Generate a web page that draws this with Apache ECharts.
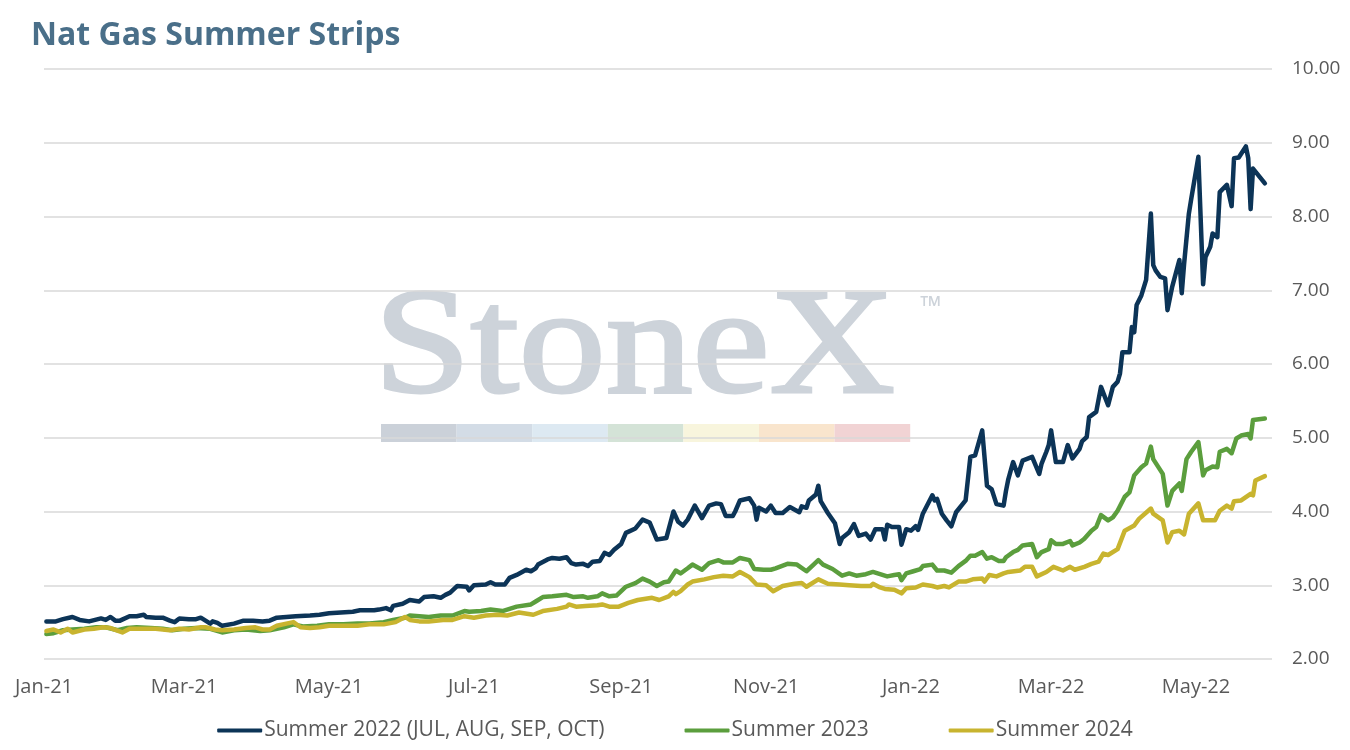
<!DOCTYPE html>
<html>
<head>
<meta charset="utf-8">
<title>Nat Gas Summer Strips</title>
<script src="https://cdn.jsdelivr.net/npm/echarts@6.0.0/dist/echarts.min.js"></script>
<style>
  html, body { margin: 0; padding: 0; background: #fff; }
  #chart { width: 1350px; height: 750px; }
</style>
</head>
<body>
<div id="chart"></div>
<script>
// legend names
var seriesNames = ['Summer 2022 (JUL, AUG, SEP, OCT)', 'Summer 2023', 'Summer 2024'];
var seriesColors = ['#0c3457', '#5b9e3d', '#c8b42f'];

// y ticks and x label months
var yMin = 2, yMax = 10, yStep = 1;
var xStart = '2021-01-01', xEnd = '2022-06-02';
var xLabelMonths = ['2021-01-01', '2021-03-01', '2021-05-01', '2021-07-01', '2021-09-01', '2021-11-01', '2022-01-01', '2022-03-01', '2022-05-01'];
var monthNames = ['Jan', 'Feb', 'Mar', 'Apr', 'May', 'Jun', 'Jul', 'Aug', 'Sep', 'Oct', 'Nov', 'Dec'];

// Summer 2022 strip
var s2022 = [
  ['2021-01-02',2.51],['2021-01-06',2.51],['2021-01-09',2.54],['2021-01-13',2.57],['2021-01-16',2.53],['2021-01-20',2.51],
  ['2021-01-25',2.55],['2021-01-27',2.53],['2021-01-29',2.57],['2021-01-31',2.52],['2021-02-02',2.52],['2021-02-06',2.58],
  ['2021-02-09',2.58],['2021-02-12',2.60],['2021-02-13',2.57],['2021-02-17',2.56],['2021-02-20',2.56],['2021-02-23',2.52],
  ['2021-02-25',2.50],['2021-02-27',2.55],['2021-03-03',2.54],['2021-03-06',2.54],['2021-03-08',2.56],['2021-03-10',2.52],
  ['2021-03-12',2.48],['2021-03-13',2.51],['2021-03-15',2.49],['2021-03-17',2.45],['2021-03-22',2.48],['2021-03-26',2.52],
  ['2021-03-30',2.52],['2021-04-03',2.51],['2021-04-06',2.52],['2021-04-09',2.56],['2021-04-13',2.57],['2021-04-17',2.58],
  ['2021-04-23',2.59],['2021-04-27',2.60],['2021-05-01',2.62],['2021-05-06',2.63],['2021-05-11',2.64],['2021-05-14',2.66],
  ['2021-05-20',2.66],['2021-05-22',2.67],['2021-05-25',2.69],['2021-05-27',2.66],['2021-05-28',2.72],['2021-06-01',2.75],
  ['2021-06-04',2.80],['2021-06-08',2.78],['2021-06-10',2.84],['2021-06-14',2.85],['2021-06-17',2.83],['2021-06-19',2.87],
  ['2021-06-21',2.90],['2021-06-23',2.96],['2021-06-24',2.99],['2021-06-28',2.98],['2021-06-29',2.93],['2021-07-01',3.00],
  ['2021-07-06',3.01],['2021-07-08',3.04],['2021-07-10',3.01],['2021-07-14',3.01],['2021-07-16',3.10],['2021-07-19',3.14],
  ['2021-07-23',3.21],['2021-07-25',3.19],['2021-07-27',3.23],['2021-07-28',3.28],['2021-08-01',3.35],['2021-08-03',3.37],
  ['2021-08-06',3.36],['2021-08-09',3.38],['2021-08-11',3.30],['2021-08-13',3.28],['2021-08-16',3.29],['2021-08-18',3.26],
  ['2021-08-20',3.32],['2021-08-23',3.33],['2021-08-25',3.44],['2021-08-27',3.41],['2021-08-29',3.48],['2021-09-01',3.56],
  ['2021-09-03',3.71],['2021-09-07',3.77],['2021-09-10',3.89],['2021-09-13',3.85],['2021-09-16',3.62],['2021-09-20',3.64],
  ['2021-09-23',4.00],['2021-09-25',3.86],['2021-09-27',3.81],['2021-09-29',3.89],['2021-10-02',4.08],['2021-10-05',3.91],
  ['2021-10-08',4.08],['2021-10-11',4.11],['2021-10-13',4.10],['2021-10-15',3.94],['2021-10-18',3.94],['2021-10-19',4.00],
  ['2021-10-21',4.15],['2021-10-25',4.18],['2021-10-27',4.08],['2021-10-28',3.89],['2021-10-29',4.05],['2021-11-01',4.00],
  ['2021-11-03',4.08],['2021-11-05',3.98],['2021-11-08',3.98],['2021-11-11',4.06],['2021-11-15',3.99],['2021-11-16',4.07],
  ['2021-11-18',4.05],['2021-11-19',4.15],['2021-11-22',4.23],['2021-11-23',4.35],['2021-11-24',4.14],['2021-11-27',3.98],
  ['2021-11-30',3.84],['2021-12-02',3.56],['2021-12-03',3.64],['2021-12-06',3.72],['2021-12-08',3.83],['2021-12-10',3.67],
  ['2021-12-13',3.70],['2021-12-15',3.62],['2021-12-17',3.76],['2021-12-20',3.76],['2021-12-21',3.62],['2021-12-22',3.82],
  ['2021-12-24',3.79],['2021-12-27',3.79],['2021-12-28',3.55],['2021-12-30',3.76],['2022-01-01',3.74],['2022-01-03',3.80],
  ['2022-01-04',3.75],['2022-01-06',3.97],['2022-01-10',4.22],['2022-01-11',4.15],['2022-01-12',4.17],['2022-01-14',3.97],
  ['2022-01-16',3.88],['2022-01-18',3.80],['2022-01-20',3.99],['2022-01-24',4.15],['2022-01-26',4.74],['2022-01-28',4.76],
  ['2022-01-31',5.10],['2022-02-02',4.35],['2022-02-04',4.30],['2022-02-06',4.10],['2022-02-09',4.08],['2022-02-10',4.28],
  ['2022-02-11',4.44],['2022-02-13',4.67],['2022-02-15',4.49],['2022-02-17',4.69],['2022-02-21',4.74],['2022-02-24',4.51],
  ['2022-02-25',4.65],['2022-02-27',4.81],['2022-02-28',4.90],['2022-03-01',5.10],['2022-03-03',4.67],['2022-03-06',4.67],
  ['2022-03-08',4.90],['2022-03-10',4.72],['2022-03-13',4.85],['2022-03-14',4.95],['2022-03-16',5.01],['2022-03-17',5.28],
  ['2022-03-20',5.35],['2022-03-22',5.69],['2022-03-25',5.44],['2022-03-27',5.69],['2022-03-29',5.76],['2022-03-30',5.87],
  ['2022-03-31',6.16],['2022-04-03',6.16],['2022-04-04',6.50],['2022-04-05',6.43],['2022-04-06',6.80],['2022-04-08',6.93],
  ['2022-04-10',7.14],['2022-04-12',8.04],['2022-04-13',7.34],['2022-04-14',7.27],['2022-04-16',7.18],['2022-04-18',7.16],
  ['2022-04-19',6.73],['2022-04-21',7.05],['2022-04-24',7.41],['2022-04-25',6.96],['2022-04-26',7.36],['2022-04-28',8.04],
  ['2022-04-29',8.24],['2022-05-02',8.81],['2022-05-04',7.08],['2022-05-05',7.45],['2022-05-07',7.59],['2022-05-08',7.77],
  ['2022-05-10',7.72],['2022-05-11',8.33],['2022-05-14',8.43],['2022-05-16',8.14],['2022-05-17',8.79],['2022-05-19',8.80],
  ['2022-05-22',8.95],['2022-05-23',8.79],['2022-05-24',8.10],['2022-05-25',8.65],['2022-05-30',8.45]
];

// Summer 2023 strip
var s2023 = [
  ['2021-01-02',2.34],['2021-01-05',2.35],['2021-01-09',2.39],['2021-01-13',2.40],['2021-01-18',2.41],['2021-01-23',2.43],
  ['2021-01-27',2.43],['2021-02-01',2.39],['2021-02-05',2.42],['2021-02-09',2.43],['2021-02-15',2.42],['2021-02-20',2.41],
  ['2021-02-24',2.39],['2021-03-01',2.41],['2021-03-06',2.42],['2021-03-12',2.41],['2021-03-17',2.36],['2021-03-22',2.39],
  ['2021-03-27',2.40],['2021-04-02',2.38],['2021-04-06',2.39],['2021-04-12',2.43],['2021-04-16',2.47],['2021-04-20',2.44],
  ['2021-04-26',2.45],['2021-05-01',2.47],['2021-05-07',2.47],['2021-05-13',2.48],['2021-05-18',2.48],['2021-05-24',2.50],
  ['2021-05-28',2.53],['2021-06-02',2.56],['2021-06-04',2.59],['2021-06-08',2.58],['2021-06-12',2.57],['2021-06-17',2.59],
  ['2021-06-22',2.59],['2021-06-27',2.65],['2021-06-29',2.64],['2021-07-04',2.65],['2021-07-08',2.67],['2021-07-13',2.65],
  ['2021-07-19',2.71],['2021-07-25',2.74],['2021-07-27',2.78],['2021-07-30',2.84],['2021-08-03',2.85],['2021-08-09',2.87],
  ['2021-08-12',2.84],['2021-08-16',2.85],['2021-08-18',2.83],['2021-08-22',2.85],['2021-08-24',2.89],['2021-08-27',2.85],
  ['2021-08-30',2.86],['2021-09-03',2.98],['2021-09-07',3.03],['2021-09-10',3.09],['2021-09-13',3.05],['2021-09-16',2.99],
  ['2021-09-19',3.04],['2021-09-21',3.05],['2021-09-24',3.20],['2021-09-26',3.16],['2021-09-29',3.23],['2021-10-01',3.28],
  ['2021-10-05',3.21],['2021-10-08',3.30],['2021-10-12',3.34],['2021-10-14',3.31],['2021-10-18',3.31],['2021-10-21',3.37],
  ['2021-10-25',3.34],['2021-10-27',3.22],['2021-10-31',3.21],['2021-11-03',3.21],['2021-11-05',3.23],['2021-11-10',3.29],
  ['2021-11-14',3.28],['2021-11-18',3.19],['2021-11-21',3.28],['2021-11-23',3.34],['2021-11-25',3.28],['2021-11-29',3.22],
  ['2021-12-03',3.13],['2021-12-06',3.16],['2021-12-09',3.13],['2021-12-13',3.15],['2021-12-16',3.18],['2021-12-19',3.15],
  ['2021-12-22',3.12],['2021-12-25',3.14],['2021-12-27',3.15],['2021-12-28',3.07],['2021-12-30',3.16],['2022-01-02',3.19],
  ['2022-01-05',3.22],['2022-01-06',3.26],['2022-01-10',3.28],['2022-01-12',3.20],['2022-01-15',3.20],['2022-01-18',3.17],
  ['2022-01-21',3.26],['2022-01-24',3.33],['2022-01-26',3.40],['2022-01-28',3.40],['2022-01-31',3.45],['2022-02-02',3.36],
  ['2022-02-04',3.38],['2022-02-07',3.33],['2022-02-09',3.33],['2022-02-10',3.38],['2022-02-13',3.45],['2022-02-15',3.48],
  ['2022-02-17',3.54],['2022-02-21',3.56],['2022-02-23',3.38],['2022-02-25',3.45],['2022-02-28',3.49],['2022-03-01',3.61],
  ['2022-03-03',3.56],['2022-03-06',3.56],['2022-03-09',3.60],['2022-03-10',3.54],['2022-03-13',3.58],['2022-03-15',3.63],
  ['2022-03-18',3.74],['2022-03-20',3.79],['2022-03-22',3.95],['2022-03-25',3.88],['2022-03-27',3.92],['2022-03-29',4.01],
  ['2022-04-01',4.20],['2022-04-03',4.26],['2022-04-05',4.49],['2022-04-08',4.60],['2022-04-10',4.65],['2022-04-12',4.88],
  ['2022-04-13',4.71],['2022-04-17',4.51],['2022-04-19',4.08],['2022-04-21',4.28],['2022-04-24',4.38],['2022-04-25',4.28],
  ['2022-04-27',4.71],['2022-04-29',4.81],['2022-05-02',4.94],['2022-05-04',4.49],['2022-05-05',4.56],['2022-05-08',4.61],
  ['2022-05-10',4.60],['2022-05-11',4.81],['2022-05-14',4.85],['2022-05-16',4.79],['2022-05-18',4.99],['2022-05-20',5.03],
  ['2022-05-23',5.05],['2022-05-24',4.99],['2022-05-25',5.24],['2022-05-30',5.26]
];

// Summer 2024 strip
var s2024 = [
  ['2021-01-02',2.38],['2021-01-05',2.40],['2021-01-08',2.36],['2021-01-11',2.41],['2021-01-13',2.36],['2021-01-18',2.40],
  ['2021-01-22',2.41],['2021-01-26',2.43],['2021-01-29',2.42],['2021-02-03',2.36],['2021-02-06',2.41],['2021-02-12',2.41],
  ['2021-02-17',2.41],['2021-02-23',2.39],['2021-02-27',2.41],['2021-03-03',2.40],['2021-03-08',2.43],['2021-03-10',2.43],
  ['2021-03-14',2.40],['2021-03-17',2.39],['2021-03-22',2.40],['2021-03-27',2.42],['2021-03-31',2.43],['2021-04-03',2.40],
  ['2021-04-06',2.40],['2021-04-09',2.45],['2021-04-13',2.48],['2021-04-16',2.50],['2021-04-19',2.43],['2021-04-23',2.42],
  ['2021-04-27',2.43],['2021-05-01',2.45],['2021-05-07',2.45],['2021-05-13',2.45],['2021-05-18',2.47],['2021-05-24',2.47],
  ['2021-05-29',2.50],['2021-06-02',2.57],['2021-06-04',2.53],['2021-06-08',2.51],['2021-06-12',2.51],['2021-06-18',2.53],
  ['2021-06-22',2.53],['2021-06-27',2.58],['2021-07-01',2.56],['2021-07-06',2.59],['2021-07-11',2.60],['2021-07-15',2.59],
  ['2021-07-20',2.63],['2021-07-26',2.60],['2021-07-30',2.65],['2021-08-05',2.68],['2021-08-09',2.71],['2021-08-10',2.74],
  ['2021-08-13',2.71],['2021-08-17',2.72],['2021-08-22',2.73],['2021-08-24',2.74],['2021-08-27',2.71],['2021-08-31',2.71],
  ['2021-09-04',2.76],['2021-09-08',2.80],['2021-09-10',2.81],['2021-09-14',2.83],['2021-09-17',2.80],['2021-09-21',2.85],
  ['2021-09-23',2.91],['2021-09-24',2.88],['2021-09-26',2.92],['2021-09-29',3.01],['2021-10-01',3.05],['2021-10-06',3.08],
  ['2021-10-10',3.11],['2021-10-14',3.13],['2021-10-18',3.12],['2021-10-21',3.18],['2021-10-25',3.11],['2021-10-28',3.01],
  ['2021-11-01',3.00],['2021-11-04',2.92],['2021-11-08',2.99],['2021-11-13',3.02],['2021-11-16',3.03],['2021-11-18',2.98],
  ['2021-11-23',3.08],['2021-11-27',3.02],['2021-12-02',3.01],['2021-12-06',3.00],['2021-12-11',2.99],['2021-12-15',2.99],
  ['2021-12-16',3.02],['2021-12-19',2.97],['2021-12-21',2.95],['2021-12-25',2.94],['2021-12-28',2.89],['2021-12-30',2.96],
  ['2022-01-03',2.97],['2022-01-06',3.01],['2022-01-10',2.99],['2022-01-12',2.97],['2022-01-15',2.99],['2022-01-17',2.97],
  ['2022-01-21',3.05],['2022-01-24',3.05],['2022-01-27',3.08],['2022-01-31',3.09],['2022-02-01',3.05],['2022-02-03',3.14],
  ['2022-02-06',3.12],['2022-02-09',3.16],['2022-02-11',3.18],['2022-02-16',3.20],['2022-02-18',3.25],['2022-02-21',3.25],
  ['2022-02-23',3.12],['2022-02-27',3.18],['2022-03-02',3.25],['2022-03-06',3.20],['2022-03-09',3.25],['2022-03-11',3.21],
  ['2022-03-15',3.25],['2022-03-18',3.29],['2022-03-21',3.32],['2022-03-23',3.43],['2022-03-25',3.41],['2022-03-29',3.49],
  ['2022-04-01',3.74],['2022-04-05',3.81],['2022-04-07',3.90],['2022-04-12',4.04],['2022-04-13',3.97],['2022-04-17',3.88],
  ['2022-04-19',3.58],['2022-04-21',3.72],['2022-04-24',3.74],['2022-04-26',3.69],['2022-04-28',3.97],['2022-05-02',4.11],
  ['2022-05-04',3.88],['2022-05-09',3.88],['2022-05-11',4.01],['2022-05-14',4.08],['2022-05-16',4.04],['2022-05-17',4.14],
  ['2022-05-20',4.15],['2022-05-24',4.24],['2022-05-25',4.22],['2022-05-26',4.42],['2022-05-30',4.48]
];

var seriesData = [s2022, s2023, s2024];

// StoneX watermark stripe colours
var stripeColors = ['#cbd1d9', '#d3dce6', '#dde9f2', '#d4e3d7', '#f8f5dd', '#f9e5cd', '#f1d3d4'];

// 'YYYY-MM-DD' -> local timestamp
function toTime(str) {
  var p = str.split('-');
  return new Date(+p[0], +p[1] - 1, +p[2]).getTime();
}

function fmtMonth(v) {
  var d = new Date(v);
  return monthNames[d.getMonth()] + '-' + String(d.getFullYear()).slice(2);
}

var graphics = [
  {
    type: 'text', silent: true, z: -10,
    x: 374, y: 352, scaleX: 1.15,
    style: { text: 'StoneX', x: 0, y: 0, font: '151px "Liberation Serif"', fill: '#cdd3da',
      stroke: '#cdd3da', lineWidth: 3, textAlign: 'left', textVerticalAlign: 'middle' }
  },
  {
    type: 'text', silent: true, z: -10,
    x: 920, y: 308,
    style: { text: '\u2122', font: '28px "Open Sans"', fill: '#cdd3da', textAlign: 'left', textVerticalAlign: 'middle' }
  }
];
for (var k = 0; k < stripeColors.length; k++) {
  graphics.push({
    type: 'rect', silent: true, z: -10,
    shape: { x: 381 + k * 75.6, y: 424, width: 75.6, height: 18 },
    style: { fill: stripeColors[k] }
  });
}

var series = [];
for (var i = 0; i < seriesNames.length; i++) {
  series.push({
    name: seriesNames[i],
    type: 'line',
    data: seriesData[i].map(function (p) { return [toTime(p[0]), p[1]]; }),
    showSymbol: false,
    symbol: 'none',
    color: seriesColors[i],
    lineStyle: { width: 4.5, color: seriesColors[i], cap: 'round', join: 'round' },
    z: 3 + i,
    animation: false
  });
}

var labelFont = '"Open Sans", "Noto Sans", sans-serif';

var option = {
  backgroundColor: '#ffffff',
  animation: false,
  title: {
    text: 'Nat Gas Summer Strips',
    left: 26, top: 15,
    textStyle: { color: '#4a6f89', fontFamily: labelFont, fontWeight: 'bold', fontSize: 32 }
  },
  graphic: graphics,
  grid: { left: 44, right: 78, top: 69, bottom: 91, containLabel: false },
  legend: {
    bottom: 4,
    left: 'center',
    itemGap: 80,
    itemWidth: 45,
    itemHeight: 4,
    icon: 'roundRect',
    textStyle: { color: '#595959', fontFamily: labelFont, fontSize: 21, padding: [0, 0, 0, -3] },
    data: seriesNames
  },
  xAxis: {
    type: 'value',
    min: toTime(xStart),
    max: toTime(xEnd),
    axisLine: { show: false },
    axisTick: { show: false },
    splitLine: { show: false },
    axisLabel: {
      customValues: xLabelMonths.map(toTime),
      formatter: fmtMonth,
      color: '#595959',
      fontFamily: labelFont,
      fontSize: 20,
      margin: 18
    }
  },
  yAxis: {
    type: 'value',
    position: 'right',
    min: yMin, max: yMax, interval: yStep,
    axisLine: { show: false },
    axisTick: { show: false },
    splitLine: { lineStyle: { color: '#d9d9d9', width: 1.5 } },
    axisLabel: {
      formatter: function (v) { return v.toFixed(2); },
      color: '#595959',
      fontFamily: labelFont,
      fontSize: 19,
      margin: 20
    }
  },
  series: series
};

var myChart = echarts.init(document.getElementById('chart'));
myChart.setOption(option);
</script>
</body>
</html>
